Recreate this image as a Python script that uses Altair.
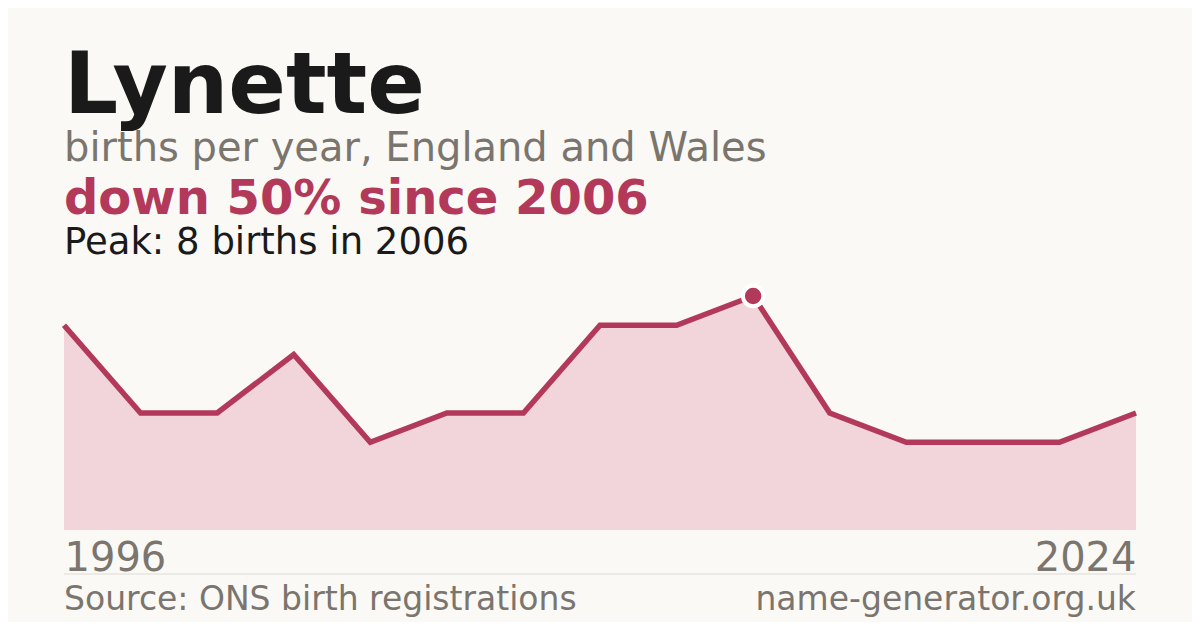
import altair as alt
import pandas as pd

years = [1996, 1997, 1998, 1999, 2000, 2001, 2002, 2003, 2005, 2006, 2009, 2012, 2016, 2020, 2024]
births = [7, 4, 4, 6, 3, 4, 4, 7, 7, 8, 4, 3, 3, 3, 4]

name = "Lynette"
subtitle = "births per year, England and Wales"
change_text = "down 50% since 2006"
peak_text = "Peak: 8 births in 2006"
source_text = "Source: ONS birth registrations"
site_text = "name-generator.org.uk"

RED = "#b3395a"
FILL = "#f2d5db"
GRAY = "#7a756e"
BG = "#faf9f5"
FONT = "DejaVu Sans"

df = pd.DataFrame({"year": years, "births": births})
peak_year = years[births.index(max(births))]
peak_df = df[df["year"] == peak_year]

W, H = 1072, 234

x = alt.X(
    "year:O",
    scale=alt.Scale(type="point", padding=0),
    axis=alt.Axis(
        title=None,
        domain=False,
        ticks=False,
        labelAngle=0,
        labelFlush=True,
        labelOverlap=False,
        labelExpr=f"datum.value == {years[0]} || datum.value == {years[-1]} ? datum.label : ''",
        labelFont=FONT,
        labelFontSize=40,
        labelColor=GRAY,
        labelPadding=8,
    ),
)
y = alt.Y("births:Q", scale=alt.Scale(domain=[0, 8], nice=False, zero=True), axis=None)

base = alt.Chart(df)
area = base.mark_area(color=FILL, clip=False).encode(x=x, y=y)
line = base.mark_line(color=RED, strokeWidth=5.5, clip=False).encode(x=x, y=y)
point = alt.Chart(peak_df).mark_point(
    filled=True, color=RED, size=420, stroke="white", strokeWidth=4, opacity=1, clip=False
).encode(x=x, y=y)


def txt(t, yy, size, color, weight="normal", align="left", xx=0):
    return alt.Chart(pd.DataFrame({"t": [t]})).mark_text(
        align=align, baseline="alphabetic", font=FONT, fontSize=size,
        fontWeight=weight, color=color,
    ).encode(text="t:N", x=alt.value(xx), y=alt.value(yy))


title_t = txt(name, -183, 85, "#1a1a1a", "bold")
sub_t = txt(subtitle, -135, 40, GRAY)
chg_t = txt(change_text, -82, 48, RED, "bold")
peak_t = txt(peak_text, -42, 37, "#1a1a1a")
src_t = txt(source_text, 314, 33, GRAY)
site_t = txt(site_text, 314, 33, GRAY, align="right", xx=W)

sep = alt.Chart(pd.DataFrame({"a": [0]})).mark_rule(color="#dedbd5", strokeWidth=1).encode(
    x=alt.value(0), x2=alt.value(W), y=alt.value(278)
)

chart = alt.layer(
    area, line, point, title_t, sub_t, chg_t, peak_t, sep, src_t, site_t
).properties(
    width=W, height=H,
    autosize=alt.AutoSizeParams(type="none"),
    padding={"left": 56, "top": 288, "right": 56, "bottom": 92},
    background=BG,
).configure_view(stroke=None)

chart.save("out.html", embed_options={"renderer": "svg", "actions": False})
